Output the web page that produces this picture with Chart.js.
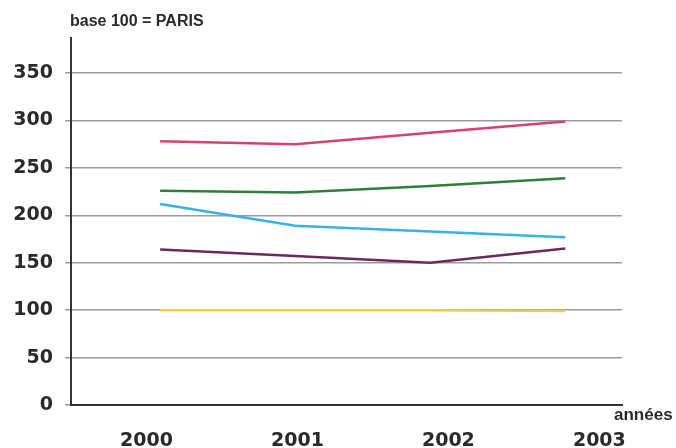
<!DOCTYPE html>
<html>
<head>
<meta charset="utf-8">
<script src="https://cdn.jsdelivr.net/npm/chart.js@4/dist/chart.umd.min.js"></script>
<style>
  html, body { margin: 0; padding: 0; background: #fff; }
  #wrap { width: 676px; height: 448px; }
</style>
</head>
<body>
<div id="wrap"><canvas id="c" width="676" height="448"></canvas></div>
<script>
// Années et indices (base 100 = Paris)
const yearLabels = ['2000', '2001', '2002', '2003'];
const yTickValues = [0, 50, 100, 150, 200, 250, 300, 350];

const serieRose   = [278, 275, 287, 299];
const serieVerte  = [226, 224, 231, 239];
const serieBleue  = [212, 189, 183, 177];
const serieViolet = [164, 157, 150, 165];
const serieJaune  = [100, 100, 100, 99];

const years = yearLabels.map(Number);
const labelSlots = yearLabels.map((_, i) => i);
const toPoints = vals => vals.map((v, i) => ({ x: years[i], y: v }));

const lineStyle = color => ({
  borderColor: color,
  backgroundColor: color,
  borderWidth: 2.5,
  pointRadius: 0,
  tension: 0,
  fill: false,
  xAxisID: 'x',
  yAxisID: 'y'
});

const textFont = 'DejaVu Sans, Verdana, sans-serif';
const noteFont = '"Liberation Sans", Arial, sans-serif';
const inkColor = '#2a2a2a';

// Texts that sit outside the axes: unit note and axis name
const annotations = {
  id: 'annotations',
  afterDraw(chart) {
    const ctx = chart.ctx;
    ctx.save();
    ctx.fillStyle = inkColor;
    ctx.textBaseline = 'alphabetic';
    ctx.textAlign = 'left';
    ctx.font = 'bold 16px ' + noteFont;
    ctx.fillText('base 100 = PARIS', 70, 26);
    ctx.font = 'bold 17px ' + noteFont;
    ctx.fillText('années', 614, 420);
    ctx.restore();
  }
};

new Chart(document.getElementById('c'), {
  type: 'line',
  data: {
    datasets: [
      { data: toPoints(serieRose),   ...lineStyle('#d8426f') },
      { data: toPoints(serieVerte),  ...lineStyle('#2f7f3c') },
      { data: toPoints(serieBleue),  ...lineStyle('#38b2e6') },
      { data: toPoints(serieViolet), ...lineStyle('#6b2a5c') },
      { data: toPoints(serieJaune),  ...lineStyle('#e6d04c') }
    ]
  },
  options: {
    responsive: false,
    animation: false,
    devicePixelRatio: 1,
    layout: { padding: { left: 0, top: 38, right: 54, bottom: 0 } },
    plugins: { legend: { display: false }, tooltip: { enabled: false } },
    scales: {
      // data axis: positions the year points
      x: {
        type: 'linear',
        display: false,
        min: 1999.34,
        max: 2003.42
      },
      // label axis: year captions and the baseline
      xLabels: {
        type: 'linear',
        position: 'bottom',
        min: -0.5,
        max: 3.15,
        afterBuildTicks: scale => { scale.ticks = labelSlots.map(v => ({ value: v })); },
        afterFit: scale => { scale.height = 43; },
        grid: { display: false },
        border: { display: true, color: '#333', width: 2 },
        ticks: {
          padding: 17,
          color: inkColor,
          font: { family: textFont, size: 19, weight: 'bold' },
          callback: v => yearLabels[v]
        }
      },
      y: {
        min: 0,
        max: 387,
        afterBuildTicks: scale => { scale.ticks = yTickValues.map(v => ({ value: v })); },
        afterFit: scale => { scale.width = 71; },
        grid: { color: '#9c9c9c', lineWidth: 1.5, tickLength: 6, drawTicks: true },
        border: { display: true, color: '#333', width: 2 },
        ticks: {
          padding: 12,
          color: inkColor,
          font: { family: textFont, size: 19, weight: 'bold' }
        }
      }
    }
  },
  plugins: [annotations]
});
</script>
</body>
</html>
